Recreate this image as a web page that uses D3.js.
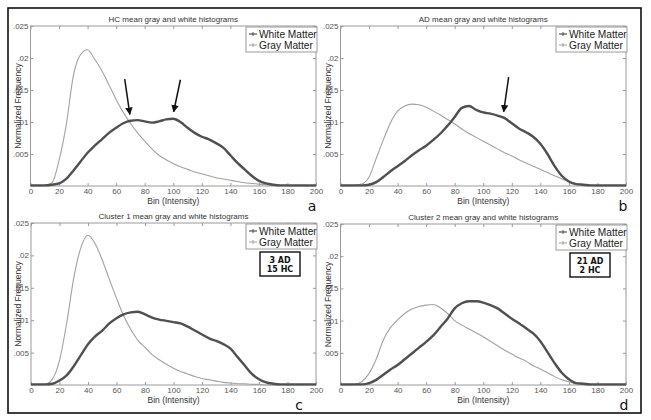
<!DOCTYPE html>
<html><head><meta charset="utf-8">
<script src="https://cdn.jsdelivr.net/npm/d3@7"></script>
<style>
html,body{margin:0;padding:0;background:#fff;}
svg{display:block;font-family:"Liberation Sans",Arial,sans-serif;}
</style></head>
<body><svg id="chart" width="651" height="420"></svg>
<script>
// ---------------- DATA ----------------
const bins = d3.range(0, 201, 5);
const xTicks = [0,20,40,60,80,100,120,140,160,180,200];
const yTicks = [0.005,0.01,0.015,0.02,0.025];
const yTickLabels = [".005",".01",".015",".02",".025"];
const seriesNames = ["White Matter","Gray Matter"];
const panelTitles = ["HC mean gray and white histograms","AD mean gray and white histograms","Cluster 1 mean gray and white histograms","Cluster 2 mean gray and white histograms"];
const panelLetters = ["a","b","c","d"];
const clusterNotes = [null,null,["3 AD","15 HC"],["21 AD","2 HC"]];

const whiteA = [.0001,.0001,.0001,.0002,.0004,.0011,.0024,.0038,.0052,.0063,.0073,.0083,.0091,.0098,.0102,.0103,.0101,.0099,.0101,.0104,.0105,.0100,.0091,.0083,.0077,.0073,.0067,.0060,.0048,.0036,.0026,.0016,.0008,.0004,.0002,.0001,.0001,.0001,.0001,.0001,.0001];
const grayA  = [0,0,.0001,.0005,.0040,.0095,.0172,.0205,.0213,.0198,.0180,.0158,.0135,.0115,.0098,.0083,.0070,.0058,.0048,.0041,.0035,.0030,.0026,.0022,.0019,.0016,.0013,.0011,.0009,.0007,.0005,.0004,.0003,.0002,.0001,.0001,.0001,0,0,0,0];
const whiteB = [.0001,.0001,.0001,.0001,.0002,.0006,.0014,.0023,.0031,.0039,.0048,.0056,.0063,.0072,.0082,.0094,.0108,.0122,.0125,.0119,.0115,.0113,.0110,.0106,.0098,.0090,.0084,.0077,.0066,.0050,.0031,.0016,.0007,.0003,.0002,.0001,.0001,.0001,.0001,.0001,.0001];
const grayB  = [0,0,.0001,.0003,.0014,.0043,.0072,.0099,.0117,.0125,.0128,.0127,.0123,.0117,.0111,.0104,.0097,.0089,.0082,.0076,.0070,.0064,.0058,.0052,.0047,.0041,.0036,.0031,.0026,.0021,.0016,.0011,.0007,.0004,.0002,.0001,0,0,0,0,0];
const whiteC = [.0001,.0001,.0001,.0002,.0007,.0015,.0029,.0046,.0063,.0075,.0084,.0095,.0103,.0109,.0112,.0113,.0109,.0104,.0101,.0099,.0097,.0095,.0090,.0084,.0078,.0072,.0068,.0063,.0056,.0043,.0030,.0017,.0009,.0004,.0002,.0001,.0001,.0001,.0001,.0001,.0001];
const grayC  = [0,0,.0001,.0009,.0038,.0095,.0165,.0212,.0231,.0218,.0193,.0163,.0134,.0107,.0086,.0069,.0058,.0047,.0039,.0032,.0026,.0021,.0017,.0013,.0010,.0008,.0006,.0004,.0003,.0002,.0002,.0001,.0001,0,0,0,0,0,0,0,0];
const whiteD = [.0001,.0001,.0001,.0001,.0003,.0008,.0016,.0024,.0031,.0040,.0049,.0058,.0067,.0077,.0090,.0103,.0119,.0127,.0130,.0130,.0128,.0124,.0119,.0111,.0103,.0096,.0088,.0080,.0068,.0051,.0034,.0019,.0009,.0003,.0002,.0001,.0001,.0001,.0001,.0001,.0001];
const grayD  = [0,0,.0001,.0005,.0018,.0040,.0070,.0089,.0101,.0111,.0118,.0122,.0124,.0125,.0120,.0111,.0100,.0093,.0087,.0081,.0075,.0068,.0061,.0054,.0048,.0042,.0037,.0030,.0025,.0019,.0013,.0008,.0005,.0002,.0001,0,0,0,0,0,0];

// arrows: [panelIndex, fromBin, fromValue, toBin, toValue]
const arrows = [[0,66,.0167,69.6,.0112],[0,105,.0166,100.3,.0116],[1,117.8,.0170,114.3,.0116]];

// ---------------- LAYOUT ----------------
const panels = [
  {white: whiteA, gray: grayA, x0: 30.5, x1: 316, y0: 186, y1: 26, lx: 312},
  {white: whiteB, gray: grayB, x0: 340.5, x1: 626, y0: 186, y1: 26, lx: 623},
  {white: whiteC, gray: grayC, x0: 31, x1: 316, y0: 385, y1: 223, lx: 299},
  {white: whiteD, gray: grayD, x0: 340.5, x1: 626, y0: 385, y1: 224, lx: 624}
];
const whiteColor = "#505050", grayColor = "#a2a2a2", axisColor = "#9a9a9a", textColor = "#555";

const svg = d3.select("#chart");
svg.append("rect").attr("width",651).attr("height",420).attr("fill","#fff");
const defs = svg.append("defs");
defs.append("marker").attr("id","ah").attr("viewBox","0 0 10 10").attr("refX",9).attr("refY",5)
  .attr("markerWidth",5).attr("markerHeight",5).attr("orient","auto")
  .append("path").attr("d","M0,0 L10,5 L0,10 Z").attr("fill","#111");

svg.append("rect").attr("x",8).attr("y",8).attr("width",633).attr("height",405)
  .attr("fill","none").attr("stroke","#111").attr("stroke-width",1.6);

panels.forEach((p, i) => {
  const x = d3.scaleLinear().domain([0,200]).range([p.x0, p.x1]);
  const y = d3.scaleLinear().domain([0,0.025]).range([p.y0, p.y1]);
  const g = svg.append("g");

  g.append("rect").attr("x",p.x0).attr("y",p.y1).attr("width",p.x1-p.x0).attr("height",p.y0-p.y1)
    .attr("fill","#fff").attr("stroke",axisColor).attr("stroke-width",1);

  const xb = d3.axisBottom(x).tickValues(xTicks).tickSize(-3).tickPadding(2).tickFormat(d3.format("d"));
  const xt = d3.axisTop(x).tickValues(xTicks).tickSize(-3).tickFormat("");
  const yl = d3.axisLeft(y).tickValues(yTicks).tickSize(-3).tickPadding(2).tickFormat((d,k)=>yTickLabels[k]);
  const yr = d3.axisRight(y).tickValues(yTicks).tickSize(-3).tickFormat("");
  [[xb,`translate(0,${p.y0})`],[xt,`translate(0,${p.y1})`],[yl,`translate(${p.x0},0)`],[yr,`translate(${p.x1},0)`]].forEach(([ax,tr])=>{
    const a = g.append("g").attr("transform",tr).call(ax);
    a.select(".domain").remove();
    a.selectAll("line").attr("stroke",axisColor);
    a.selectAll("text").attr("fill",textColor).attr("font-size",8).attr("font-family","Liberation Sans, Arial, sans-serif");
  });

  g.append("text").attr("x",(p.x0+p.x1)/2).attr("y",p.y1-4).attr("text-anchor","middle")
    .attr("font-size",8).attr("fill","#333").text(panelTitles[i]);
  g.append("text").attr("x",(p.x0+p.x1)/2).attr("y",p.y0+18).attr("text-anchor","middle")
    .attr("font-size",8.5).attr("fill","#333").text("Bin (Intensity)");
  g.append("text").attr("transform",`translate(${p.x0-10},${(p.y0+p.y1)/2}) rotate(-90)`)
    .attr("text-anchor","middle").attr("font-size",8.5).attr("fill","#333").text("Normalized Frequency");

  const line = d3.line().x((d,k)=>x(bins[k])).y(d=>y(d)).curve(d3.curveMonotoneX);
  g.append("path").datum(p.gray).attr("d",line).attr("fill","none").attr("stroke",grayColor).attr("stroke-width",1.1);
  g.append("path").datum(p.white).attr("d",line).attr("fill","none").attr("stroke",whiteColor).attr("stroke-width",2.4);

  // legend
  const lw = 71, lh = 25;
  const lx = p.x1 - lw + 1, ly = p.y1 + 1;
  const lg = g.append("g").attr("transform",`translate(${lx},${ly})`);
  lg.append("rect").attr("width",lw).attr("height",lh).attr("fill","#fff").attr("stroke",axisColor);
  seriesNames.forEach((nm,k)=>{
    const yy = 7 + k*11;
    lg.append("line").attr("x1",3).attr("x2",11).attr("y1",yy).attr("y2",yy)
      .attr("stroke",k===0?whiteColor:grayColor).attr("stroke-width",k===0?1.2:1);
    lg.append("path").attr("d",`M7,${yy-2}V${yy+2}`).attr("stroke",k===0?whiteColor:grayColor);
    lg.append("text").attr("x",13).attr("y",yy+3.8).attr("font-size",10.2).attr("fill","#222").text(nm);
  });

  if (clusterNotes[i]) {
    const bx = p.x1 - 56, by = p.y1 + 29;
    const nb = g.append("g").attr("transform",`translate(${bx},${by})`);
    nb.append("rect").attr("width",40).attr("height",24).attr("fill","#fff").attr("stroke","#111").attr("stroke-width",1.4);
    clusterNotes[i].forEach((t,k)=>{
      nb.append("text").attr("x",20).attr("y",10.5+k*9).attr("text-anchor","middle")
        .attr("font-family","DejaVu Sans, sans-serif").attr("font-weight","bold").attr("font-size",8).attr("fill","#111").text(t);
    });
  }

  g.append("text").attr("x",p.lx).attr("y",p.y0+25).attr("text-anchor","middle")
    .attr("font-family","DejaVu Sans, sans-serif").attr("font-size",14).attr("fill","#111").text(panelLetters[i]);

  arrows.filter(a=>a[0]===i).forEach(a=>{
    g.append("line").attr("x1",x(a[1])).attr("y1",y(a[2])).attr("x2",x(a[3])).attr("y2",y(a[4]))
      .attr("stroke","#111").attr("stroke-width",1.5).attr("marker-end","url(#ah)");
  });
});
</script></body></html>
